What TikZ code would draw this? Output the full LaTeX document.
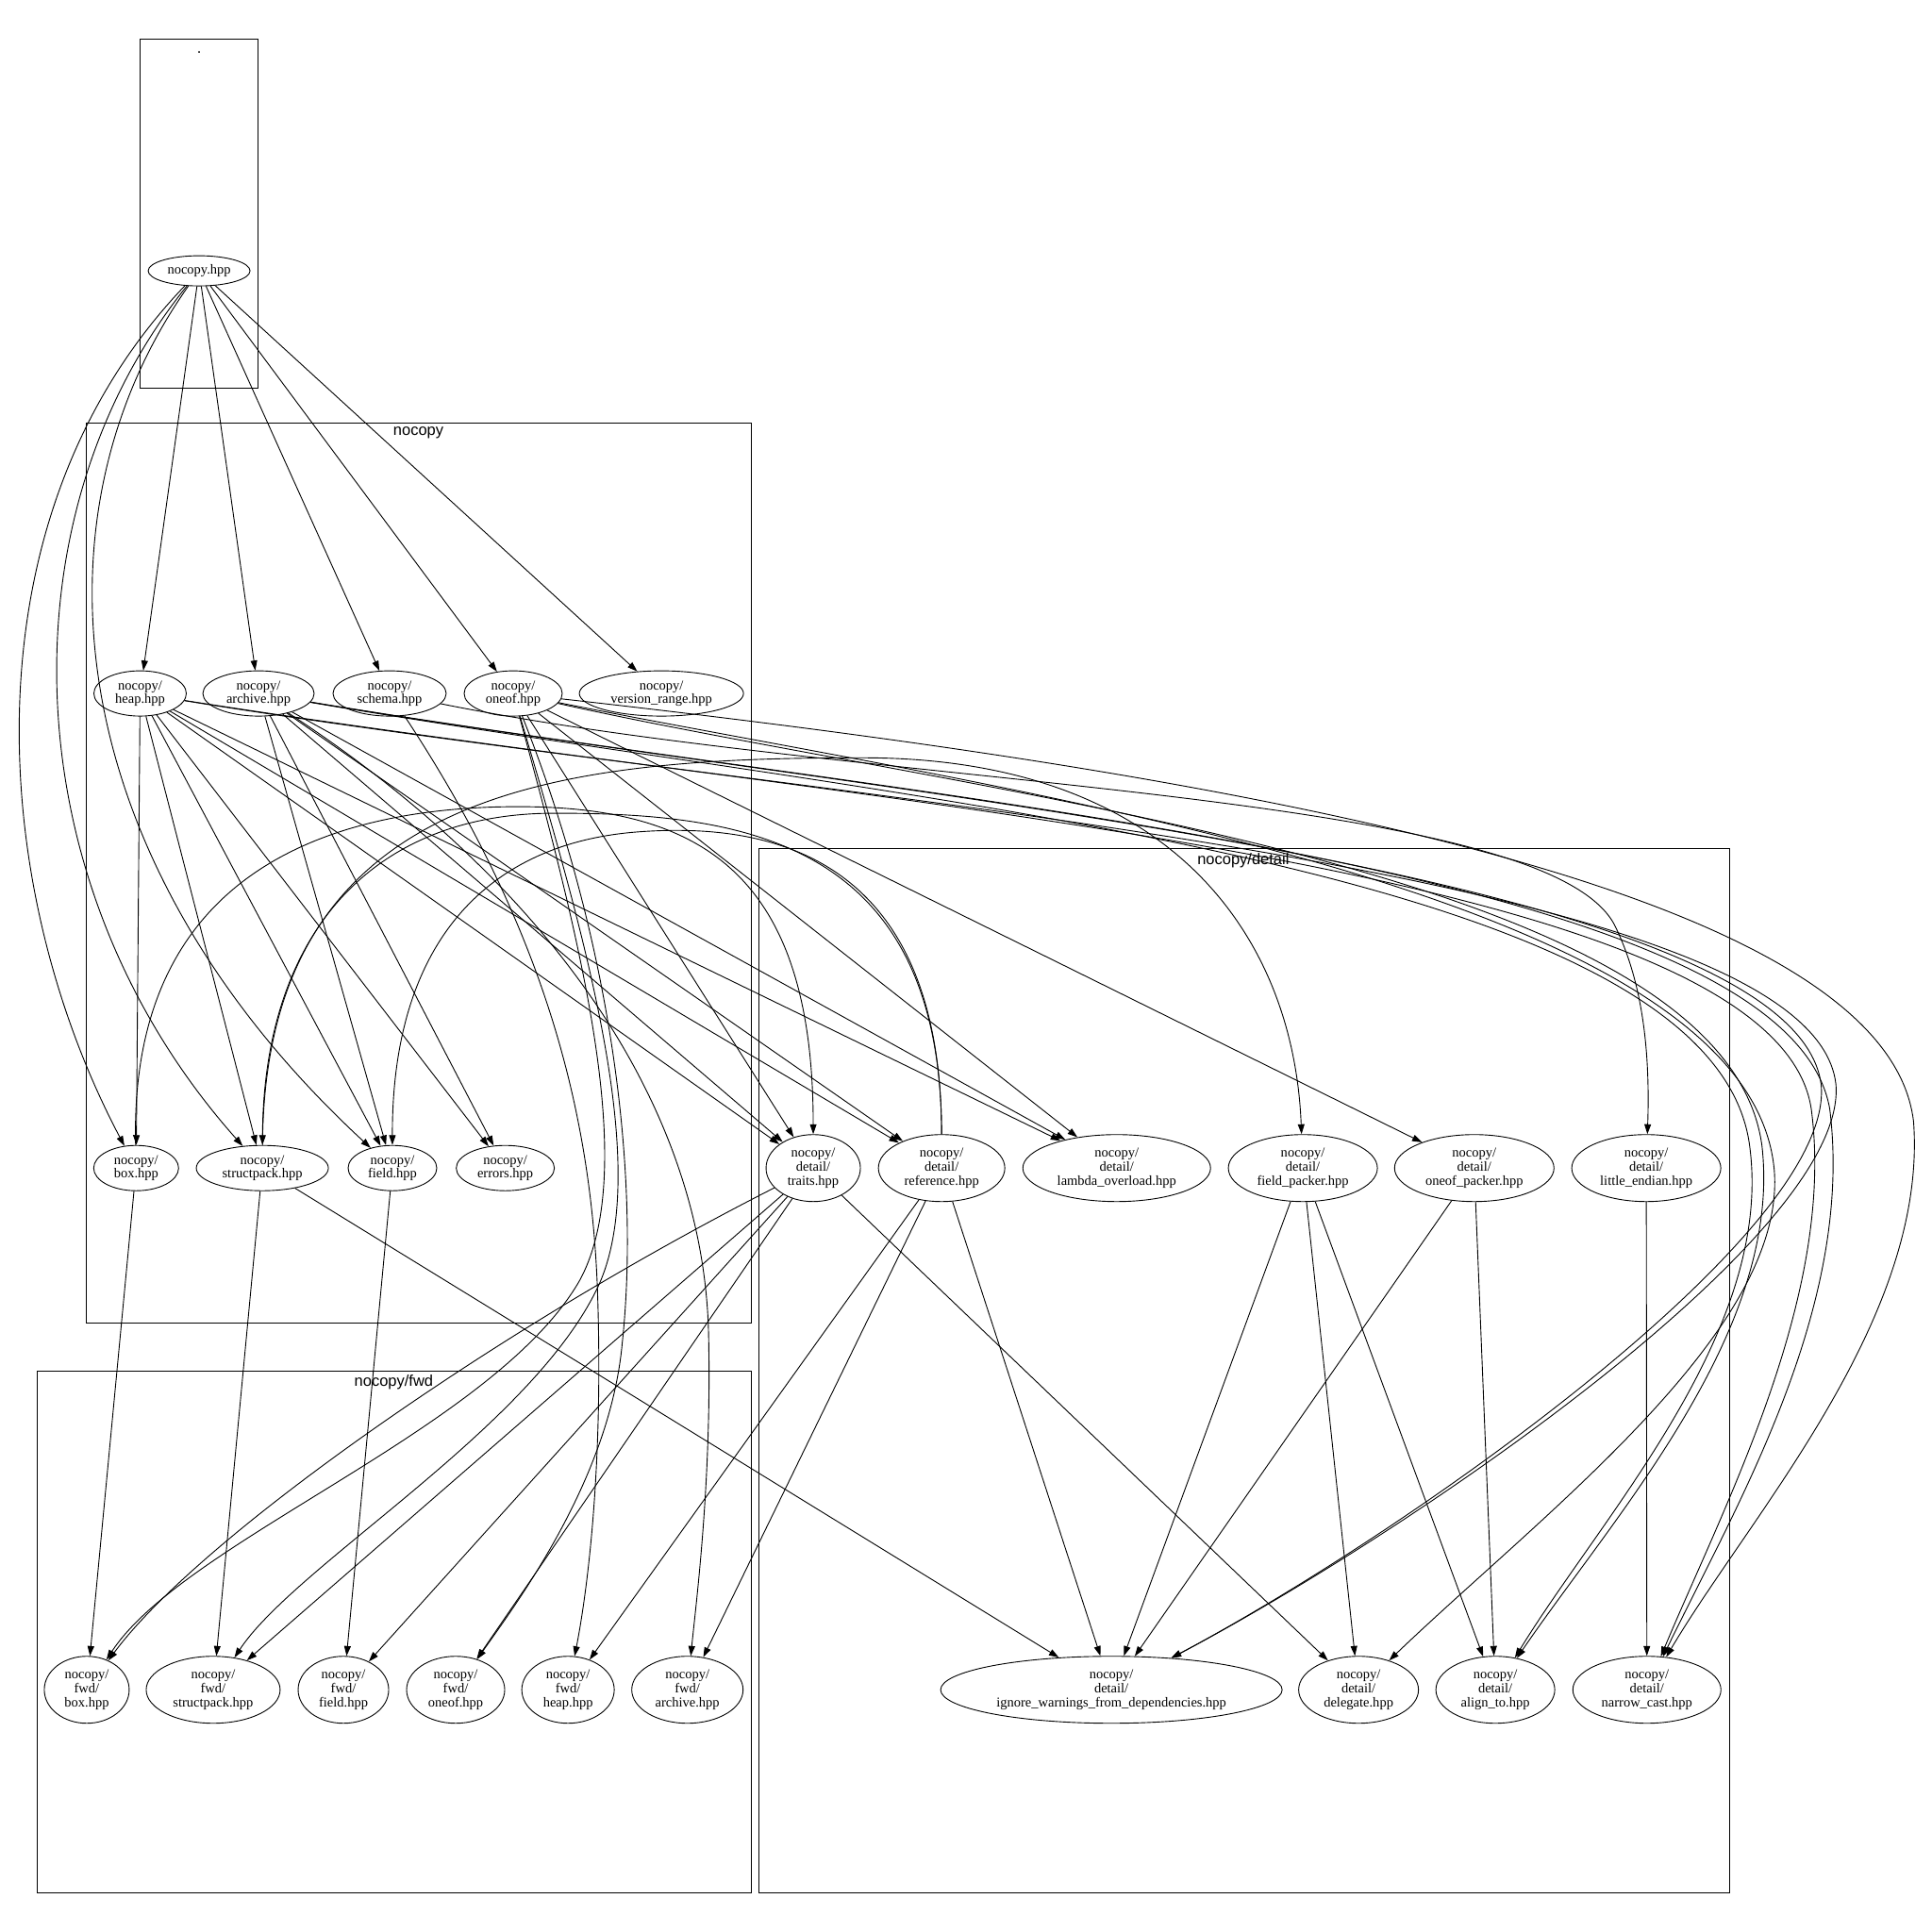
\documentclass[tikz,border=0pt]{standalone}
\usepackage{fontspec}
\setmainfont{Liberation Serif}
\newfontfamily\clusfamily{Liberation Sans}
\usetikzlibrary{arrows.meta,shapes.geometric}
\newcommand{\nodefont}{\fontsize{14.5pt}{14.6pt}\selectfont}
\newcommand{\clusfont}{\clusfamily\fontsize{16.5pt}{18pt}\selectfont}
\tikzset{
  hdr/.style={draw, ellipse, inner sep=0pt, align=center, font=\nodefont, line width=0.9pt},
  hdrtwo/.style={hdr, minimum height=48pt},
  hdrthree/.style={hdr, minimum height=71pt},
  clus/.style={draw, line width=0.9pt},
  clab/.style={font=\clusfont},
  dep/.style={-{Triangle[length=10.5pt, width=7pt]}, line width=0.9pt},
}
\begin{document}
\begin{tikzpicture}[x=1.306pt, y=-1.306pt]
  \useasboundingbox (0,0) rectangle (1568,1568);
  % clusters
  \draw[clus] (113.7,31.4) rectangle (209.3,314.7);
  \draw[clus] (70,343) rectangle (609.5,1074);
  \draw[clus] (615.6,689) rectangle (1403.5,1535.8);
  \draw[clus] (30,1112.7) rectangle (609.5,1535.8);
  \node[clab] (lroot) at (161.6,42.9) {.};
  \node[clab] (lnocopy) at (339.6,351.5) {nocopy};
  \node[clab] (ldetail) at (1009,698.3) {nocopy/detail};
  \node[clab] (lfwd) at (319.6,1121.7) {nocopy/fwd};

  % headers
  \node[hdr, minimum width=108pt, minimum height=32pt] (hpp) at (161.6,219.8) {nocopy.hpp};

  \node[hdrtwo, minimum width=98pt] (heap) at (113.7,562.8) {nocopy/\\heap.hpp};
  \node[hdrtwo, minimum width=118pt] (archive) at (209.8,562.8) {nocopy/\\archive.hpp};
  \node[hdrtwo, minimum width=120pt] (schema) at (316.2,562.8) {nocopy/\\schema.hpp};
  \node[hdrtwo, minimum width=104pt] (oneof) at (416.5,562.8) {nocopy/\\oneof.hpp};
  \node[hdrtwo, minimum width=174pt] (vrange) at (536.8,562.8) {nocopy/\\version\_range.hpp};

  \node[hdrtwo, minimum width=90pt] (box) at (110.5,948) {nocopy/\\box.hpp};
  \node[hdrtwo, minimum width=140pt] (spack) at (212.9,948) {nocopy/\\structpack.hpp};
  \node[hdrtwo, minimum width=94pt] (field) at (318.5,948) {nocopy/\\field.hpp};
  \node[hdrtwo, minimum width=104pt] (errors) at (410.1,948) {nocopy/\\errors.hpp};

  \node[hdrthree, minimum width=100pt] (traits) at (660,948) {nocopy/\\detail/\\traits.hpp};
  \node[hdrthree, minimum width=134pt] (ref) at (764.2,948) {nocopy/\\detail/\\reference.hpp};
  \node[hdrthree, minimum width=199pt] (lambda) at (906.3,948) {nocopy/\\detail/\\lambda\_overload.hpp};
  \node[hdrthree, minimum width=158pt] (fpack) at (1057.4,948) {nocopy/\\detail/\\field\_packer.hpp};
  \node[hdrthree, minimum width=169pt] (opack) at (1196.5,948) {nocopy/\\detail/\\oneof\_packer.hpp};
  \node[hdrthree, minimum width=158pt] (lendian) at (1336.1,948) {nocopy/\\detail/\\little\_endian.hpp};

  \node[hdrthree, minimum width=90pt] (fbox) at (70.4,1371.4) {nocopy/\\fwd/\\box.hpp};
  \node[hdrthree, minimum width=142pt] (fspack) at (173,1371.4) {nocopy/\\fwd/\\structpack.hpp};
  \node[hdrthree, minimum width=96pt] (ffield) at (278.7,1371.4) {nocopy/\\fwd/\\field.hpp};
  \node[hdrthree, minimum width=104pt] (foneof) at (369.8,1371.4) {nocopy/\\fwd/\\oneof.hpp};
  \node[hdrthree, minimum width=98pt] (fheap) at (461,1371.4) {nocopy/\\fwd/\\heap.hpp};
  \node[hdrthree, minimum width=118pt] (farchive) at (557.9,1371.4) {nocopy/\\fwd/\\archive.hpp};

  \node[hdrthree, minimum width=362pt] (ignore) at (902,1371.4) {nocopy/\\detail/\\ignore\_warnings\_from\_dependencies.hpp};
  \node[hdrthree, minimum width=127pt] (delegate) at (1102.6,1371.4) {nocopy/\\detail/\\delegate.hpp};
  \node[hdrthree, minimum width=126pt] (align) at (1213.6,1371.4) {nocopy/\\detail/\\align\_to.hpp};
  \node[hdrthree, minimum width=157pt] (narrow) at (1336.6,1371.4) {nocopy/\\detail/\\narrow\_cast.hpp};

  % nocopy.hpp
  \foreach \t in {heap,archive,schema,oneof,vrange}
    \draw[dep] (hpp) -- (\t);
  \draw[dep] (hpp) .. controls (-30,420) and (-10,720) .. (box);
  \draw[dep] (hpp) .. controls (0,420) and (10,720) .. (spack);
  \draw[dep] (hpp) .. controls (20,420) and (50,700) .. (field);

  % straight includes
  \foreach \t in {box,spack,field,errors,traits,ref,lambda}
    \draw[dep] (heap) -- (\t);
  \foreach \t in {field,errors,traits,ref,lambda}
    \draw[dep] (archive) -- (\t);
  \foreach \t in {traits,lambda,opack}
    \draw[dep] (oneof) -- (\t);
  \draw[dep] (box) -- (fbox);
  \draw[dep] (spack) -- (fspack);
  \draw[dep] (field) -- (ffield);
  \draw[dep] (spack) -- (ignore);
  \foreach \t in {fspack,ffield,foneof,delegate}
    \draw[dep] (traits) -- (\t);
  \draw[dep] (traits) .. controls (400,1080) and (160,1250) .. (fbox);
  \foreach \t in {fheap,farchive,ignore}
    \draw[dep] (ref) -- (\t);
  \foreach \t in {ignore,delegate,align}
    \draw[dep] (fpack) -- (\t);
  \foreach \t in {ignore,align}
    \draw[dep] (opack) -- (\t);
  \draw[dep] (lendian) -- (narrow);

  % down into fwd
  \draw[dep] (oneof) .. controls (470,760) and (520,950) .. (470,1040) .. controls (400,1160) and (150,1250) .. (fbox);
  \draw[dep] (oneof) .. controls (475,760) and (530,950) .. (485,1045) .. controls (430,1160) and (240,1270) .. (fspack);
  \draw[dep] (oneof) .. controls (495,760) and (520,950) .. (505,1090) .. controls (495,1200) and (420,1300) .. (foneof);
  \draw[dep] (schema) .. controls (440,750) and (480,900) .. (485,1050) .. controls (490,1200) and (475,1300) .. (fheap);
  \draw[dep] (archive) .. controls (450,720) and (570,900) .. (575,1080) .. controls (578,1200) and (565,1300) .. (farchive);

  % arcs along the middle row
  \draw[dep] (box) .. controls (105,720) and (250,660) .. (400,655) .. controls (560,650) and (660,700) .. (traits);
  \draw[dep] (ref) .. controls (764,680) and (600,660) .. (450,660) .. controls (300,660) and (214,760) .. (spack);
  \draw[dep] (ref) .. controls (764,690) and (620,668) .. (520,675) .. controls (400,683) and (318,760) .. (field);
  \draw[dep] (spack) .. controls (215,640) and (450,615) .. (700,615) .. controls (950,615) and (1050,760) .. (fpack);

  % round the right side
  \draw[dep] (schema) .. controls (700,640) and (1250,640) .. (1310,750) .. controls (1335,800) and (1339,860) .. (lendian);
  \draw[dep] (heap) .. controls (650,650) and (1470,700) .. (1490,880) .. controls (1500,1000) and (1150,1240) .. (ignore);
  \draw[dep] (archive) .. controls (700,645) and (1455,705) .. (1478,880) .. controls (1490,1000) and (1140,1245) .. (ignore);
  \draw[dep] (oneof) .. controls (800,640) and (1420,720) .. (1440,950) .. controls (1450,1080) and (1250,1230) .. (delegate);
  \draw[dep] (archive) .. controls (720,650) and (1390,700) .. (1420,930) .. controls (1440,1080) and (1300,1230) .. (align);
  \draw[dep] (oneof) .. controls (800,648) and (1400,705) .. (1430,930) .. controls (1447,1080) and (1310,1230) .. (align);
  \draw[dep] (heap) .. controls (700,655) and (1440,700) .. (1470,900) .. controls (1490,1050) and (1400,1220) .. (narrow);
  \draw[dep] (archive) .. controls (750,652) and (1450,700) .. (1485,900) .. controls (1505,1060) and (1410,1220) .. (narrow);
  \draw[dep] (oneof) .. controls (1000,628) and (1530,720) .. (1553,910) .. controls (1565,1070) and (1420,1230) .. (narrow);
\end{tikzpicture}
\end{document}
